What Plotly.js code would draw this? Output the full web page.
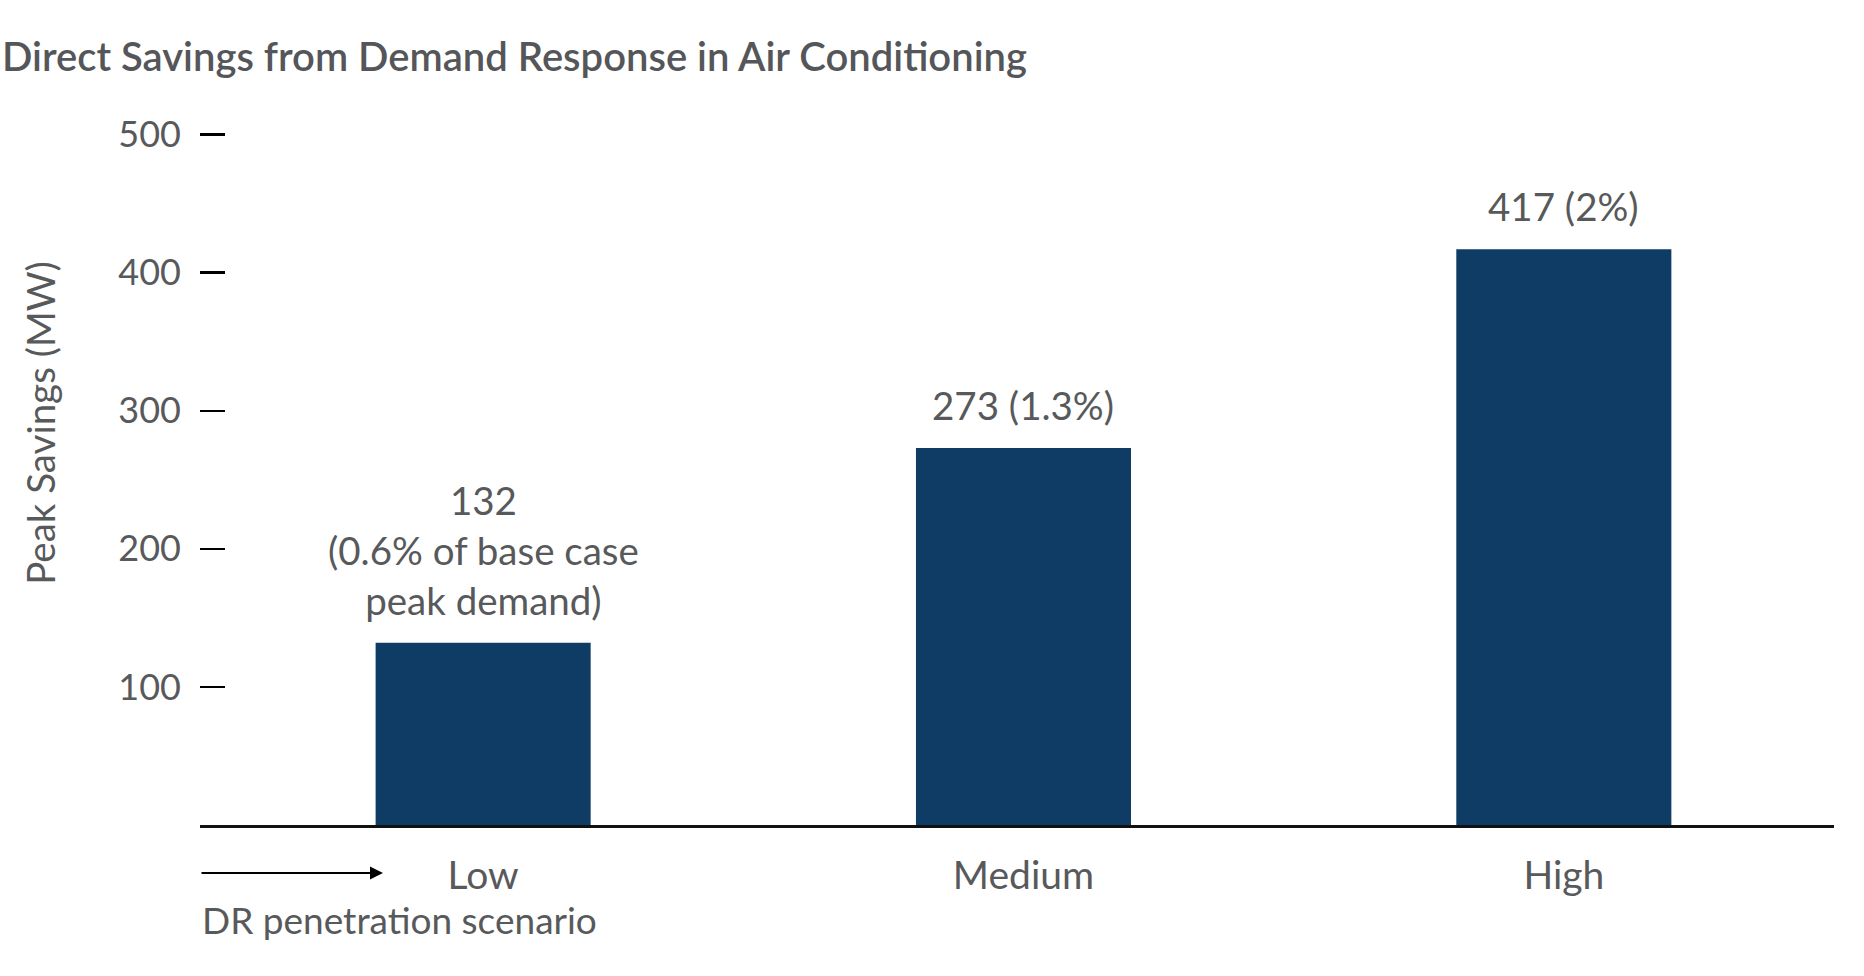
<!DOCTYPE html>
<html>
<head>
<meta charset="utf-8">
<script src="https://cdn.plot.ly/plotly-3.0.1.min.js"></script>
<style>
  html, body { margin: 0; padding: 0; background: #ffffff; }
  #chart { width: 1864px; height: 976px; }
</style>
</head>
<body>
<div id="chart"></div>
<script>
// DR penetration scenarios and their peak savings
const scenarios = ['Low', 'Medium', 'High'];
const savingsMW = [132, 273, 417];
const shareOfPeak = ['0.6%', '1.3%', '2%'];
const yTickVals = [100, 200, 300, 400, 500];

const TEXT = '#58595b';
const BAR = '#0f3c64';
const FONT = 'Lato, "Source Sans Pro", "Noto Sans", sans-serif';

// value labels above each bar, written from the same values as the bars
const barLabels = savingsMW.map((v, i) =>
  i === 0 ? `${v}<br>(${shareOfPeak[i]} of base case<br>peak demand)`
          : `${v} (${shareOfPeak[i]})`);

const trace = {
  type: 'bar',
  x: scenarios,
  y: savingsMW,
  width: 0.398,
  marker: { color: BAR, line: { width: 0 } },
  hoverinfo: 'x+y'
};

const annotations = barLabels.map((t, i) => ({
  x: scenarios[i], y: savingsMW[i], xref: 'x', yref: 'y',
  text: t, showarrow: false, xanchor: 'center', yanchor: 'bottom',
  yshift: 18, align: 'center',
  font: { family: FONT, size: 38.5, color: TEXT }
}));

// y-axis title
annotations.push({
  xref: 'paper', yref: 'paper', x: -0.098, y: 0.56,
  text: 'Peak Savings (MW)', textangle: -90, showarrow: false,
  xanchor: 'center', yanchor: 'middle',
  font: { family: FONT, size: 38.5, color: TEXT }
});

// direction arrow under the axis
annotations.push({
  xref: 'paper', yref: 'paper', x: 0.112, y: -0.0669,
  ax: -183, ay: 0, text: '', showarrow: true,
  arrowhead: 2, arrowsize: 1.3, arrowwidth: 2, arrowcolor: '#000000', standoff: 0
});

// x-axis caption
annotations.push({
  xref: 'paper', yref: 'paper', x: 0, y: -0.132,
  text: 'DR penetration scenario', showarrow: false,
  xanchor: 'left', yanchor: 'middle',
  font: { family: FONT, size: 37, color: TEXT }
});

const layout = {
  width: 1864, height: 976,
  margin: { l: 200, r: 30, t: 107, b: 151 },
  paper_bgcolor: '#ffffff', plot_bgcolor: '#ffffff',
  showlegend: false,
  title: {
    text: 'Direct Savings from Demand Response in Air Conditioning',
    x: 0, xref: 'container', xanchor: 'left', y: 0.9416, yref: 'container', yanchor: 'middle',
    pad: { l: 2 },
    font: { family: FONT, size: 40, color: '#55565a', weight: 600 }
  },
  xaxis: {
    type: 'category',
    range: [-0.524, 2.5],
    showline: true, linecolor: '#111111', linewidth: 3,
    ticks: '', showgrid: false, zeroline: false,
    tickfont: { family: FONT, size: 39, color: TEXT },
    ticklabelstandoff: 14,
    fixedrange: true
  },
  yaxis: {
    range: [0, 520],
    tickvals: yTickVals,
    ticks: 'inside', ticklen: 25, tickwidth: 2.5, tickcolor: '#000000',
    showline: false, showgrid: false, zeroline: false,
    tickfont: { family: FONT, size: 36, color: TEXT },
    ticklabelstandoff: 18,
    fixedrange: true
  },
  annotations: annotations
};

Plotly.newPlot('chart', [trace], layout, { displayModeBar: false, staticPlot: true });
</script>
</body>
</html>
